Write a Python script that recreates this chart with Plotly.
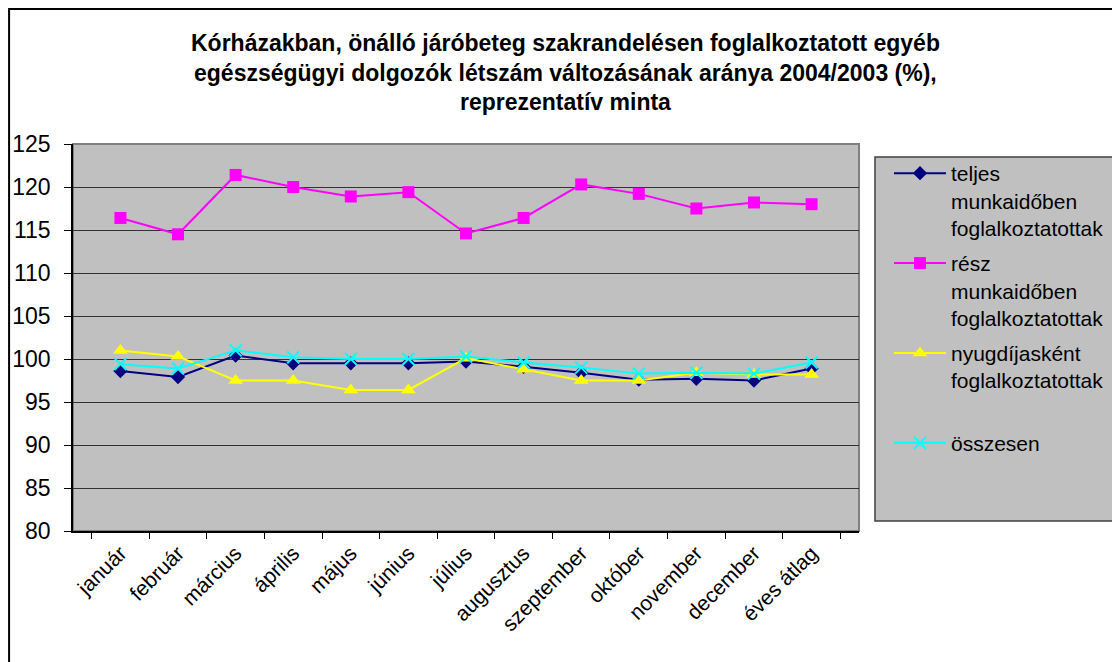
import plotly.graph_objects as go

MONTHS = ['január', 'február', 'március', 'április', 'május', 'június',
          'július', 'augusztus', 'szeptember', 'október', 'november',
          'december', 'éves átlag']

TELJES = [98.6, 97.9, 100.4, 99.5, 99.5, 99.5, 99.7, 99.1, 98.4, 97.6,
          97.7, 97.5, 98.9]
RESZ = [116.4, 114.5, 121.4, 120.0, 118.9, 119.4, 114.6, 116.4, 120.3,
        119.2, 117.5, 118.2, 118.0]
NYUGDIJAS = [101.0, 100.3, 97.5, 97.5, 96.4, 96.4, 100.1, 98.8, 97.5, 97.5,
             98.4, 98.2, 98.2]
OSSZESEN = [99.4, 98.9, 101.0, 100.2, 100.0, 100.0, 100.3, 99.6, 99.0, 98.3,
            98.4, 98.3, 99.6]

TITLE_LINES = [
    'Kórházakban, önálló járóbeteg szakrandelésen foglalkoztatott egyéb',
    'egészségügyi dolgozók létszám változásának aránya 2004/2003 (%),',
    'reprezentatív minta',
]

# the page body adds an 8px margin, so the figure starts at (8, 8)
OFF = 8
W, H = 1120 - OFF, 662 - OFF
L, R, T, B = 73 - OFF, 860 - OFF, 144 - OFF, 531 - OFF
FONT = 'Liberation Sans, Arial, sans-serif'


def px_x(p):
    return (p - OFF - L) / (R - L)


def px_y(p):
    return (B - (p - OFF)) / (B - T)


series = [
    ('teljes<br>munkaidőben<br>foglalkoztatottak', TELJES, '#000080',
     dict(symbol='diamond', size=11, color='#000080')),
    ('rész<br>munkaidőben<br>foglalkoztatottak', RESZ, '#FF00FF',
     dict(symbol='square', size=12, color='#FF00FF')),
    ('nyugdíjasként<br>foglalkoztatottak<br>&nbsp;', NYUGDIJAS, '#FFFF00',
     dict(symbol='triangle-up', size=13, color='#FFFF00')),
    ('összesen', OSSZESEN, '#00FFFF',
     dict(symbol='x-thin', size=12, color='#00FFFF',
          line=dict(color='#00FFFF', width=2))),
]

fig = go.Figure()
for i, (name, vals, color, marker) in enumerate(series):
    fig.add_trace(go.Scatter(
        x=MONTHS, y=vals, name=name, mode='lines+markers',
        line=dict(color=color, width=2), marker=marker,
        legendgroup=f'g{i}',
    ))

shapes = [
    # plot area border (gray top/right)
    dict(type='rect', xref='paper', yref='paper', x0=0, x1=1, y0=0, y1=1,
         line=dict(color='#808080', width=2), layer='below'),
    # legend box
    dict(type='rect', xref='paper', yref='paper',
         x0=px_x(876), x1=px_x(1118), y0=px_y(521), y1=px_y(157),
         fillcolor='#C0C0C0', line=dict(color='#404040', width=1.5),
         layer='below'),
    # outer chart frame (left and top edges)
    dict(type='line', xref='paper', yref='paper',
         x0=px_x(9), x1=px_x(9), y0=px_y(8), y1=px_y(680),
         line=dict(color='black', width=2)),
    dict(type='line', xref='paper', yref='paper',
         x0=px_x(9), x1=px_x(1130), y0=px_y(9), y1=px_y(9),
         line=dict(color='black', width=2)),
]

annotations = []
for i, line in enumerate(TITLE_LINES):
    annotations.append(dict(
        text='<b>' + line + '</b>', xref='paper', yref='paper',
        x=px_x(566), y=px_y(43 + 29.5 * i), showarrow=False,
        xanchor='center', yanchor='middle',
        font=dict(family=FONT, size=23, color='black'),
    ))

fig.update_layout(
    width=W, height=H,
    margin=dict(l=L, r=W - R, t=T, b=H - B, pad=0),
    paper_bgcolor='white',
    plot_bgcolor='#C0C0C0',
    font=dict(family=FONT, color='black'),
    shapes=shapes,
    annotations=annotations,
    legend=dict(
        x=px_x(889), y=px_y(153), xanchor='left', yanchor='top',
        bgcolor='rgba(0,0,0,0)', borderwidth=0,
        font=dict(family=FONT, size=21, color='black'),
        valign='top', tracegroupgap=5, itemwidth=52,
    ),
    showlegend=True,
)

fig.update_xaxes(
    type='category', tickson='boundaries', ticks='outside', ticklen=6,
    tickcolor='black', tickangle=-45, showgrid=False, automargin=False,
    showline=True, linecolor='black', linewidth=1.5,
    tickfont=dict(family=FONT, size=21, color='black'),
)
fig.update_yaxes(
    range=[80, 125], dtick=5, ticks='outside', ticklen=7, tickcolor='black',
    showgrid=True, gridcolor='#333333', gridwidth=1, automargin=False,
    showline=True, linecolor='black', linewidth=1.5,
    tickfont=dict(family=FONT, size=23, color='black'),
    ticklabelstandoff=9, zeroline=False,
)

fig.write_html('out.html')
